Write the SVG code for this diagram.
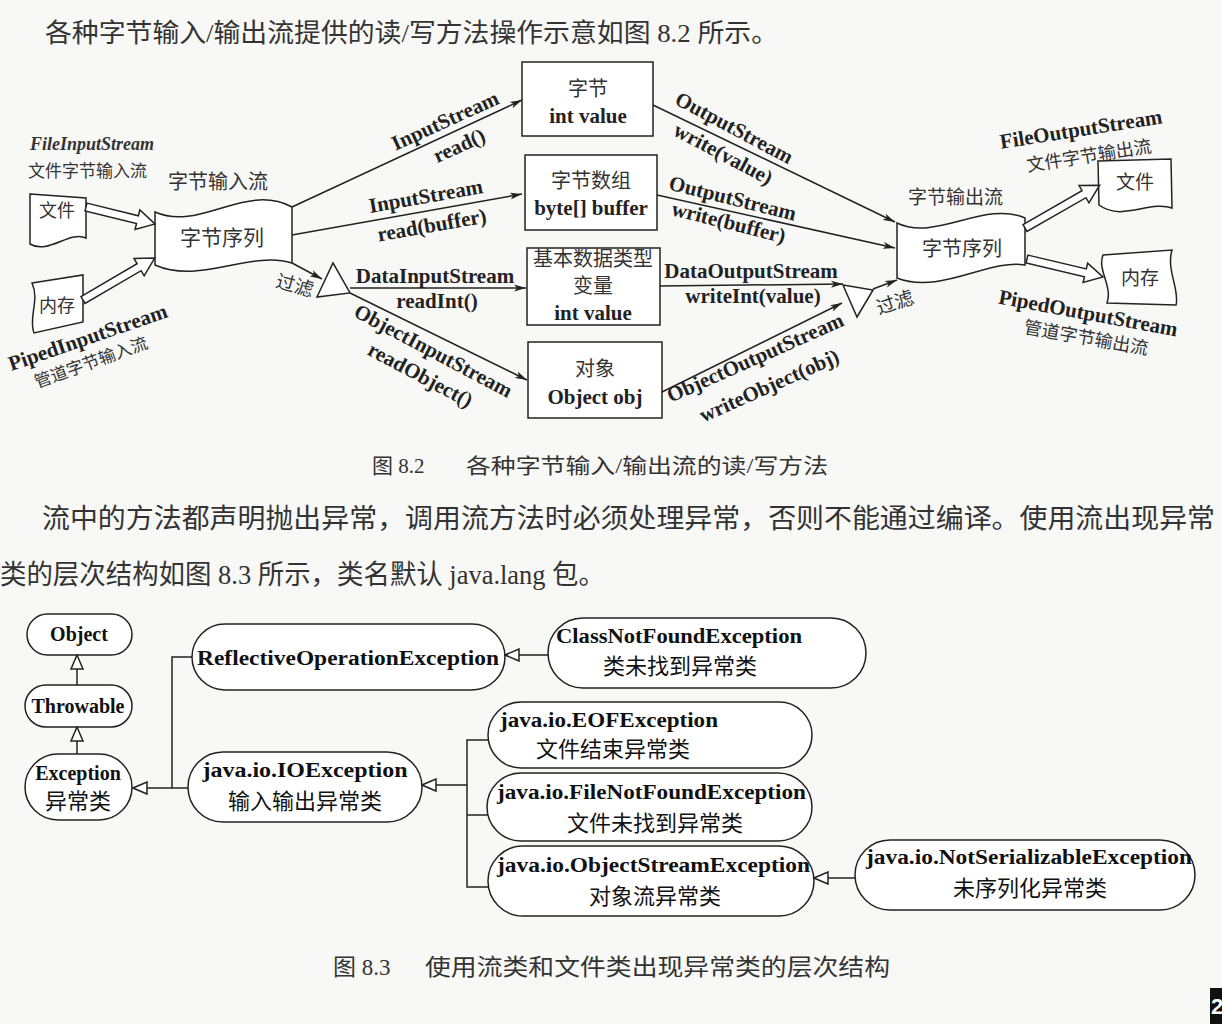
<svg xmlns="http://www.w3.org/2000/svg" width="1222" height="1024" viewBox="0 0 1222 1024">
<style>
.bg{fill:#f8f8f6}
.s{fill:none;stroke:#222;stroke-width:1.5}
.w{fill:#fff;stroke:#222;stroke-width:1.5}
.cn{font-family:"Liberation Serif","Noto Sans CJK SC",serif;fill:#333}
.zh{font-family:"Noto Sans CJK SC",sans-serif;fill:#333}
.lb{font-family:"Liberation Serif","Noto Sans CJK SC",serif;font-weight:bold;font-size:21px;fill:#222}
.it{font-family:"Liberation Serif",serif;font-weight:bold;font-style:italic;font-size:18px;fill:#333}
.pe{font-family:"Liberation Serif",serif;font-weight:bold;font-size:20px;fill:#111}
.pz{font-family:"Noto Sans CJK SC",sans-serif;font-size:22px;fill:#111}
</style>
<defs>
<marker id="arr" viewBox="0 0 12 8" refX="12" refY="4" markerWidth="12" markerHeight="8" markerUnits="userSpaceOnUse" orient="auto"><path d="M0,0.5 L12,4 L0,7.5 L3,4 Z" fill="#222"/></marker>
<marker id="tri" viewBox="0 0 16 14" refX="15" refY="7" markerWidth="16" markerHeight="14" markerUnits="userSpaceOnUse" orient="auto"><path d="M1,1 L15,7 L1,13 Z" fill="#fff" stroke="#222" stroke-width="1.5"/></marker>
</defs>
<rect class="bg" x="0" y="0" width="1222" height="1024"/>

<text class="cn" x="45" y="42" font-size="26" textLength="733" lengthAdjust="spacingAndGlyphs">各种字节输入/输出流提供的读/写方法操作示意如图 8.2 所示。</text>

<!-- Figure 8.2 -->
<g id="file-in">
<path class="w" d="M30,194 L86,198 L86,238 C70,230 48,255 30,244 Z"/>
<text class="zh" x="57" y="217" font-size="18" text-anchor="middle">文件</text>
<text class="it" x="30" y="150">FileInputStream</text>
<text class="zh" x="28" y="177" font-size="17">文件字节输入流</text>
</g>
<g id="mem-in">
<path class="w" d="M32,283 L83,275 L83,322 L34,333 C28,318 40,300 32,283 Z"/>
<text class="zh" x="57" y="312" font-size="18" text-anchor="middle">内存</text>
<text class="lb" font-size="19" text-anchor="middle" transform="translate(90,344) rotate(-19)">PipedInputStream</text>
<text class="zh" font-size="17" text-anchor="middle" transform="translate(93,368) rotate(-20)">管道字节输入流</text>
</g>
<g id="seq-in">
<path class="w" d="M155,212 C200,232 245,182 292,207 L292,263 C250,250 200,285 155,265 Z"/>
<text class="zh" x="222" y="245" font-size="21" text-anchor="middle">字节序列</text>
<text class="zh" x="168" y="189" font-size="20">字节输入流</text>
</g>
<g id="filter-in">
<polygon class="w" points="317,297 333,263 350,293"/>
<text class="zh" font-size="19" text-anchor="middle" transform="translate(293,292) rotate(15)">过滤</text>
</g>
<g id="box-byte">
<rect class="w" x="522" y="62" width="131" height="74"/>
<text class="zh" x="588" y="96" font-size="20" text-anchor="middle">字节</text>
<text class="lb" x="588" y="123" text-anchor="middle">int value</text>
</g>
<g id="box-bytes">
<rect class="w" x="525" y="155" width="132" height="75"/>
<text class="zh" x="591" y="188" font-size="20" text-anchor="middle">字节数组</text>
<text class="lb" x="591" y="215" text-anchor="middle">byte[] buffer</text>
</g>
<g id="box-prim">
<rect class="w" x="527" y="248" width="133" height="77"/>
<text class="zh" x="593" y="266" font-size="20" text-anchor="middle">基本数据类型</text>
<text class="zh" x="593" y="293" font-size="20" text-anchor="middle">变量</text>
<text class="lb" x="593" y="320" text-anchor="middle">int value</text>
</g>
<g id="box-obj">
<rect class="w" x="528" y="342" width="134" height="76"/>
<text class="zh" x="595" y="376" font-size="20" text-anchor="middle">对象</text>
<text class="lb" x="595" y="404" text-anchor="middle">Object obj</text>
</g>
<g id="filter-out">
<polygon class="w" points="843,285 873,290 857,317"/>
<text class="zh" font-size="19" text-anchor="middle" transform="translate(897,309) rotate(-18)">过滤</text>
</g>
<g id="seq-out">
<path class="w" d="M897,223 C935,242 985,200 1025,218 L1025,265 C990,258 940,295 897,278 Z"/>
<text class="zh" x="962" y="256" font-size="20" text-anchor="middle">字节序列</text>
<text class="zh" x="908" y="204" font-size="19">字节输出流</text>
</g>
<g id="file-out">
<path class="w" d="M1098,161 L1171,159 L1172,208 C1150,200 1122,222 1099,205 Z"/>
<text class="zh" x="1135" y="189" font-size="19" text-anchor="middle">文件</text>
<text class="lb" font-size="19" text-anchor="middle" transform="translate(1082,136) rotate(-9)">FileOutputStream</text>
<text class="zh" font-size="18" text-anchor="middle" transform="translate(1090,162) rotate(-9)">文件字节输出流</text>
</g>
<g id="mem-out">
<path class="w" d="M1103,255 L1172,250 C1166,270 1180,290 1176,305 L1107,303 C1113,286 1097,270 1103,255 Z"/>
<text class="zh" x="1140" y="285" font-size="19" text-anchor="middle">内存</text>
<text class="lb" font-size="19" text-anchor="middle" transform="translate(1087,320) rotate(10.5)">PipedOutputStream</text>
<text class="zh" font-size="18" text-anchor="middle" transform="translate(1085,344) rotate(10)">管道字节输出流</text>
</g>

<g id="connectors-82">
<path class="w" d="M0,-4 H53 V-10 L71,0 L53,10 V4 H0 Z" transform="translate(86,207) rotate(13.8)"/>
<path class="w" d="M0,-4 H65 V-10 L83,0 L65,10 V4 H0 Z" transform="translate(83,300) rotate(-30.3)"/>
<path class="w" d="M0,-4 H68 V-10 L86,0 L68,10 V4 H0 Z" transform="translate(1025,228) rotate(-29.8)"/>
<path class="w" d="M0,-4 H60 V-10 L78,0 L60,10 V4 H0 Z" transform="translate(1027,259) rotate(13.3)"/>
<path class="s" d="M292,207 L522,100" marker-end="url(#arr)"/>
<path class="s" d="M292,235 L522,194" marker-end="url(#arr)"/>
<path class="s" d="M292,263 L322,279" marker-end="url(#arr)"/>
<path class="s" d="M350,288 L526,288" marker-end="url(#arr)"/>
<path class="s" d="M350,293 L527,380" marker-end="url(#arr)"/>
<path class="s" d="M653,105 L895,222" marker-end="url(#arr)"/>
<path class="s" d="M657,195 L895,248" marker-end="url(#arr)"/>
<path class="s" d="M660,286 L843,284" marker-end="url(#arr)"/>
<path class="s" d="M662,392 L842,303" marker-end="url(#arr)"/>
<path class="s" d="M873,289 L897,280" marker-end="url(#arr)"/>
<text class="lb" text-anchor="middle" transform="translate(448,127) rotate(-24.5)">InputStream</text>
<text class="lb" text-anchor="middle" transform="translate(462,152) rotate(-24.5)">read()</text>
<text class="lb" text-anchor="middle" transform="translate(427,203) rotate(-10)">InputStream</text>
<text class="lb" text-anchor="middle" transform="translate(433,232) rotate(-10)">read(buffer)</text>
<text class="lb" x="435" y="283" text-anchor="middle">DataInputStream</text>
<text class="lb" x="437" y="308" text-anchor="middle">readInt()</text>
<text class="lb" text-anchor="middle" transform="translate(430,357) rotate(28)">ObjectInputStream</text>
<text class="lb" text-anchor="middle" transform="translate(417,381) rotate(28)">readObject()</text>
<text class="lb" text-anchor="middle" transform="translate(731,134) rotate(28)">OutputStream</text>
<text class="lb" text-anchor="middle" transform="translate(720,160) rotate(28)">write(value)</text>
<text class="lb" text-anchor="middle" transform="translate(731,205) rotate(14)">OutputStream</text>
<text class="lb" text-anchor="middle" transform="translate(727,229) rotate(14)">write(buffer)</text>
<text class="lb" x="751" y="278" text-anchor="middle">DataOutputStream</text>
<text class="lb" x="753" y="303" text-anchor="middle">writeInt(value)</text>
<text class="lb" text-anchor="middle" transform="translate(758,364) rotate(-24)">ObjectOutputStream</text>
<text class="lb" text-anchor="middle" transform="translate(772,392) rotate(-24)">writeObject(obj)</text>
</g>

<text class="cn" x="372" y="473" font-size="21">图 8.2</text>
<text class="cn" x="466" y="473" font-size="21" textLength="362" lengthAdjust="spacingAndGlyphs">各种字节输入/输出流的读/写方法</text>

<text class="cn" x="42" y="528" font-size="27" textLength="1173" lengthAdjust="spacingAndGlyphs">流中的方法都声明抛出异常，调用流方法时必须处理异常，否则不能通过编译。使用流出现异常</text>
<text class="cn" x="0" y="584" font-size="27" textLength="605" lengthAdjust="spacingAndGlyphs">类的层次结构如图 8.3 所示，类名默认 java.lang 包。</text>

<!-- Figure 8.3 -->
<g id="object"><rect class="w" x="27" y="614" width="105" height="41" rx="20.5"/><text class="pe" x="79" y="641" text-anchor="middle">Object</text></g>
<g id="throwable"><rect class="w" x="25" y="685" width="107" height="42" rx="21"/><text class="pe" x="78" y="713" text-anchor="middle">Throwable</text></g>
<g id="exception"><rect class="w" x="25" y="754" width="107" height="66" rx="33"/><text class="pe" x="78" y="780" text-anchor="middle">Exception</text><text class="pz" x="78" y="809" text-anchor="middle" font-size="21">异常类</text></g>
<g id="reflective"><rect class="w" x="192" y="624" width="313" height="66" rx="33"/><text class="pe" x="348" y="665" text-anchor="middle" font-size="21" textLength="302" lengthAdjust="spacingAndGlyphs">ReflectiveOperationException</text></g>
<g id="classnotfound"><rect class="w" x="548" y="618" width="318" height="70" rx="35"/><text class="pe" x="556" y="643" textLength="246" lengthAdjust="spacingAndGlyphs">ClassNotFoundException</text><text class="pz" x="680" y="674" text-anchor="middle">类未找到异常类</text></g>
<g id="ioexception"><rect class="w" x="188" y="752" width="234" height="70" rx="35"/><text class="pe" x="305" y="777" text-anchor="middle" textLength="205" lengthAdjust="spacingAndGlyphs">java.io.IOException</text><text class="pz" x="305" y="809" text-anchor="middle">输入输出异常类</text></g>
<g id="eof"><rect class="w" x="488" y="702" width="324" height="66" rx="33"/><text class="pe" x="500" y="727" textLength="218" lengthAdjust="spacingAndGlyphs">java.io.EOFException</text><text class="pz" x="613" y="757" text-anchor="middle">文件结束异常类</text></g>
<g id="filenotfound"><rect class="w" x="487" y="773" width="325" height="68" rx="34"/><text class="pe" x="497" y="799" textLength="309" lengthAdjust="spacingAndGlyphs">java.io.FileNotFoundException</text><text class="pz" x="655" y="831" text-anchor="middle">文件未找到异常类</text></g>
<g id="objectstream"><rect class="w" x="488" y="846" width="326" height="70" rx="35"/><text class="pe" x="497" y="872" textLength="313" lengthAdjust="spacingAndGlyphs">java.io.ObjectStreamException</text><text class="pz" x="655" y="904" text-anchor="middle">对象流异常类</text></g>
<g id="notserializable"><rect class="w" x="855" y="840" width="340" height="70" rx="35"/><text class="pe" x="866" y="864" textLength="326" lengthAdjust="spacingAndGlyphs">java.io.NotSerializableException</text><text class="pz" x="1030" y="896" text-anchor="middle">未序列化异常类</text></g>

<g id="connectors-83">
<path class="s" d="M77,685 V655" marker-end="url(#tri)"/>
<path class="s" d="M77,754 V727" marker-end="url(#tri)"/>
<path class="s" d="M192,657 H172 V788 H133" marker-end="url(#tri)"/>
<path class="s" d="M188,788 H172"/>
<path class="s" d="M548,655 H505" marker-end="url(#tri)"/>
<path class="s" d="M488,740 H467 V887 H488"/>
<path class="s" d="M488,815 H467"/>
<path class="s" d="M467,785 H422" marker-end="url(#tri)"/>
<path class="s" d="M855,878 H814" marker-end="url(#tri)"/>
</g>

<text class="cn" x="333" y="975" font-size="23">图 8.3</text>
<text class="cn" x="425" y="975" font-size="23" textLength="465" lengthAdjust="spacingAndGlyphs">使用流类和文件类出现异常类的层次结构</text>

<rect x="1210" y="988" width="12" height="36" fill="#111"/>
<text x="1211" y="1014" font-family="Liberation Sans,sans-serif" font-weight="bold" font-size="22" fill="#fff">2</text>
</svg>
